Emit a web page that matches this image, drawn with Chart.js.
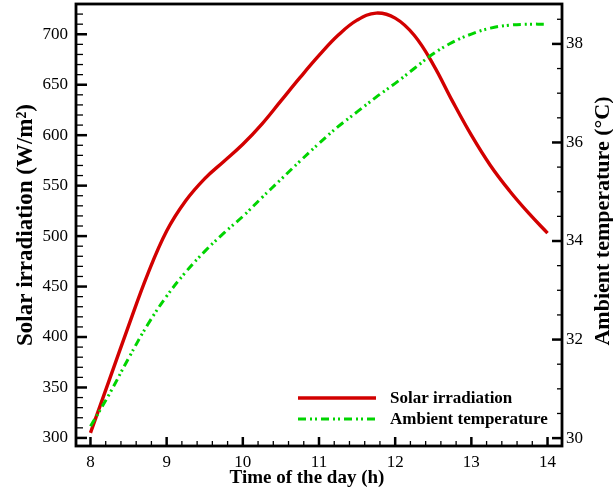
<!DOCTYPE html>
<html><head><meta charset="utf-8">
<script src="https://cdn.jsdelivr.net/npm/chart.js@4.4.1/dist/chart.umd.min.js"></script>
<style>html,body{margin:0;padding:0;background:#fff;}#wrap{width:613px;height:494px;}</style>
</head><body><div id="wrap"><canvas id="c" width="613" height="494"></canvas></div>
<script>
const hours = [8,8.25,8.5,8.75,9,9.25,9.5,9.75,10,10.25,10.5,10.75,11,11.25,11.5,11.75,12,12.25,12.5,12.75,13,13.25,13.5,13.75,14];
const solarIrradiation = [305,358,411,462,505,535,557,574,591,611,634,657,679,699,714,721,716,699,670,634,600,570,545,523,503];
const ambientTemperature = [30.24,30.9,31.62,32.3,32.88,33.37,33.79,34.16,34.5,34.88,35.25,35.62,35.98,36.32,36.62,36.92,37.2,37.5,37.8,38.03,38.2,38.32,38.38,38.4,38.4];
const xTickValues = [8,9,10,11,12,13,14];
const leftTickValues = [300,350,400,450,500,550,600,650,700];
const rightTickValues = [30,32,34,36,38];
const seriesLabels = ['Solar irradiation','Ambient temperature'];
const xTitle = 'Time of the day (h)';
const leftTitle = 'Solar irradiation (W/m\u00B2)';
const rightTitle = 'Ambient temperature (\u00B0C)';

const SERIF = '"Liberation Serif", "Times New Roman", serif';
const RED = '#d20000';
const GREEN = '#00d400';

function fixedTicks(values){ return s => { s.ticks = values.map(v => ({value:v})); }; }

const framePlugin = {
  id:'frame',
  afterDraw(chart){
    const ctx = chart.ctx, a = chart.chartArea;
    const sx = chart.scales.x, sl = chart.scales.yL, sr = chart.scales.yR;
    ctx.save();
    ctx.strokeStyle = '#000';
    function tick(x1,y1,x2,y2,w){ ctx.lineWidth = w; ctx.beginPath(); ctx.moveTo(x1,y1); ctx.lineTo(x2,y2); ctx.stroke(); }
    for (let v = 300; v <= sl.max; v += 10) {
      const y = sl.getPixelForValue(v);
      const major = leftTickValues.includes(v);
      tick(a.left, y, a.left + (major ? 11 : 7), y, major ? 2.5 : 1.3);
    }
    for (let v = 30; v <= sr.max; v += 0.5) {
      const y = sr.getPixelForValue(v);
      const major = rightTickValues.includes(v);
      tick(a.right, y, a.right - (major ? 10 : 5), y, major ? 2.5 : 1.3);
    }
    for (let k = 0; k <= 30; k++) {
      const v = 8 + k * 0.2;
      const x = sx.getPixelForValue(v);
      const major = k % 5 === 0;
      tick(x, a.bottom, x, a.bottom - (major ? 9 : 5), major ? 2.5 : 1.3);
    }
    ctx.lineWidth = 2.8;
    ctx.strokeRect(a.left, a.top, a.right - a.left, a.bottom - a.top);
    ctx.fillStyle = '#000';
    ctx.textAlign = 'center';
    ctx.textBaseline = 'middle';
    ctx.font = 'bold 19px ' + SERIF;
    ctx.fillText(xTitle, 307, 478);
    ctx.font = 'bold 22px ' + SERIF;
    ctx.translate(603, 221);
    ctx.rotate(-Math.PI / 2);
    ctx.fillText(rightTitle, 0, 0);
    ctx.restore();
    ctx.save();
    chart.data.datasets.forEach((ds, i) => {
      const y = 398 + i * 21;
      ctx.strokeStyle = ds.borderColor;
      ctx.lineWidth = ds.borderWidth;
      ctx.setLineDash(ds.borderDash || []);
      ctx.lineCap = 'butt';
      ctx.beginPath(); ctx.moveTo(298, y); ctx.lineTo(376, y); ctx.stroke();
      ctx.setLineDash([]);
      ctx.fillStyle = '#000';
      ctx.font = 'bold 17px ' + SERIF;
      ctx.textAlign = 'left';
      ctx.textBaseline = 'middle';
      ctx.fillText(ds.label, 390, y + 1);
    });
    ctx.restore();
  }
};

function zeroPad(s){ s.paddingTop = 0; s.paddingBottom = 0; s.paddingLeft = 0; s.paddingRight = 0; }

new Chart(document.getElementById('c'), {
  type:'line',
  data:{
    datasets:[
      { label:seriesLabels[0], data:hours.map((h,i)=>({x:h,y:solarIrradiation[i]})), yAxisID:'yL',
        borderColor:RED, borderWidth:3.4, pointRadius:0, tension:0.4, order:2, fill:false },
      { label:seriesLabels[1], data:hours.map((h,i)=>({x:h,y:ambientTemperature[i]})), yAxisID:'yR',
        borderColor:GREEN, borderWidth:3, borderDash:[8,4,2,3,2,4], borderCapStyle:'butt', pointRadius:0,
        tension:0.4, order:1, fill:false }
    ]
  },
  options:{
    responsive:false, animation:false, devicePixelRatio:1,
    layout:{padding:{top:4,left:0,right:0,bottom:0}},
    plugins:{legend:{display:false}, tooltip:{enabled:false}},
    scales:{
      x:{ type:'linear', min:7.81, max:14.19, afterBuildTicks:fixedTicks(xTickValues),
          grid:{display:false, drawTicks:false}, border:{display:false},
          ticks:{color:'#000', font:{family:SERIF, size:17}, padding:6, maxRotation:0, callback:v=>String(v)},
          title:{display:false},
          afterFit:s=>{ s.height = 48; zeroPad(s); } },
      yL:{ type:'linear', position:'left', min:292, max:730, afterBuildTicks:fixedTicks(leftTickValues),
          grid:{display:false, drawTicks:false}, border:{display:false},
          ticks:{color:'#000', font:{family:SERIF, size:17}, padding:8, callback:v=>String(v)},
          title:{display:true, text:leftTitle, color:'#000', font:{family:SERIF, size:23, weight:'bold'}, padding:{top:12,bottom:0}},
          afterFit:s=>{ s.width = 76; zeroPad(s); } },
      yR:{ type:'linear', position:'right', min:29.84, max:38.81, afterBuildTicks:fixedTicks(rightTickValues),
          grid:{display:false, drawTicks:false}, border:{display:false},
          ticks:{color:'#000', font:{family:SERIF, size:17}, padding:4, callback:v=>String(v)},
          title:{display:false},
          afterFit:s=>{ s.width = 51; zeroPad(s); } }
    }
  },
  plugins:[framePlugin]
});
</script></body></html>
